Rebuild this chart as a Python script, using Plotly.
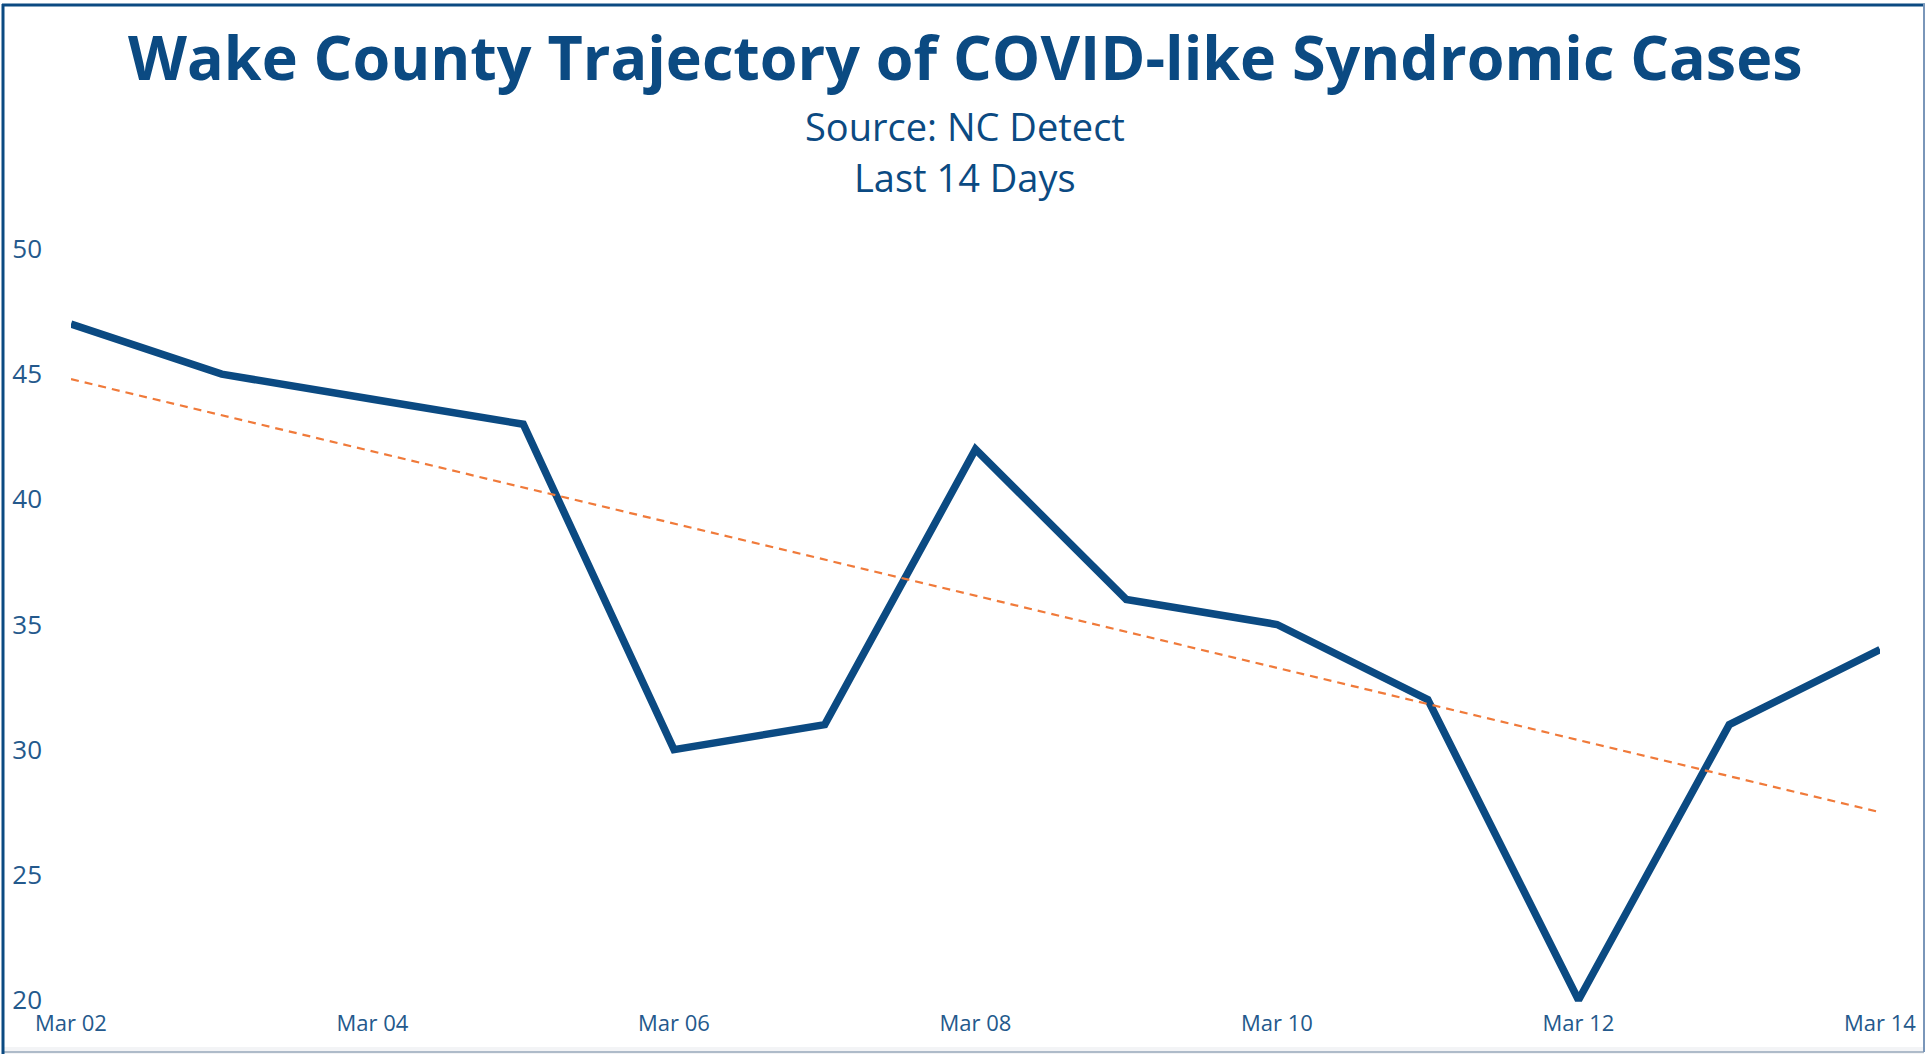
import plotly.graph_objects as go

# ---- data ----
dates = ["2020-03-02", "2020-03-03", "2020-03-04", "2020-03-05", "2020-03-06",
         "2020-03-07", "2020-03-08", "2020-03-09", "2020-03-10", "2020-03-11",
         "2020-03-12", "2020-03-13", "2020-03-14"]
cases = [47, 45, 44, 43, 30, 31, 42, 36, 35, 32, 20, 31, 34]
trend_dates = ["2020-03-02", "2020-03-14"]
trend_values = [44.8, 27.5]
y_ticks = [20, 25, 30, 35, 40, 45, 50]

title_text = "Wake County Trajectory of COVID-like Syndromic Cases"
subtitle_lines = ["Source: NC Detect", "Last 14 Days"]

# ---- layout geometry (pixels) ----
W, H = 1931, 1054
L, R = 71, 1880          # plot left / right
T, B = 249, 1008         # plot top / bottom


def px_x(px):
    return (px - L) / (R - L)


def px_y(py):
    return (B - py) / (B - T)


NAVY = "#0B4A82"
ORANGE = "#F07A3A"
TICK = "#24598C"

fig = go.Figure()
fig.add_trace(go.Scatter(
    x=dates, y=cases, mode="lines",
    line=dict(color=NAVY, width=7.5),
    hoverinfo="x+y", showlegend=False,
))
fig.add_trace(go.Scatter(
    x=trend_dates, y=trend_values, mode="lines",
    line=dict(color=ORANGE, width=2.2, dash="8px,6px"),
    hoverinfo="skip", showlegend=False,
))

annotations = [
    dict(text="<b>" + title_text + "</b>", x=px_x(965), y=px_y(56),
         xref="paper", yref="paper", xanchor="center", yanchor="middle",
         showarrow=False, font=dict(family="Open Sans", size=61, color=NAVY)),
    dict(text=subtitle_lines[0], x=px_x(965), y=px_y(126),
         xref="paper", yref="paper", xanchor="center", yanchor="middle",
         showarrow=False, font=dict(family="Open Sans", size=38, color=NAVY)),
    dict(text=subtitle_lines[1], x=px_x(965), y=px_y(177),
         xref="paper", yref="paper", xanchor="center", yanchor="middle",
         showarrow=False, font=dict(family="Open Sans", size=38, color=NAVY)),
]

shapes = [
    # bottom grey strip
    dict(type="rect", xref="paper", yref="paper",
         x0=px_x(3), x1=px_x(1924), y0=px_y(1047), y1=px_y(1054),
         fillcolor="#F3F4F6", line=dict(width=0), layer="below"),
    dict(type="line", xref="paper", yref="paper",
         x0=px_x(3), x1=px_x(1924), y0=px_y(1052), y1=px_y(1052),
         line=dict(color="#AEBBC9", width=2)),
    # top border
    dict(type="line", xref="paper", yref="paper",
         x0=px_x(2), x1=px_x(1925), y0=px_y(5), y1=px_y(5),
         line=dict(color=NAVY, width=3)),
    # left border
    dict(type="line", xref="paper", yref="paper",
         x0=px_x(3), x1=px_x(3), y0=px_y(4), y1=px_y(1054),
         line=dict(color=NAVY, width=3)),
    # right border
    dict(type="line", xref="paper", yref="paper",
         x0=px_x(1924), x1=px_x(1924), y0=px_y(4), y1=px_y(1052),
         line=dict(color="#7A96B9", width=2)),
]

fig.update_layout(
    width=W, height=H,
    margin=dict(l=L, r=W - R, t=T, b=H - B, pad=0),
    paper_bgcolor="white", plot_bgcolor="white",
    annotations=annotations, shapes=shapes,
    showlegend=False,
    font=dict(family="Open Sans", color=TICK),
)
fig.update_xaxes(
    type="date", range=[dates[0], dates[-1]],
    tick0=dates[0], dtick=2 * 86400000, tickformat="%b %d",
    showgrid=False, zeroline=False, showline=False, ticks="",
    tickfont=dict(family="Open Sans", size=22, color=TICK),
    ticklabelstandoff=0,
)
fig.update_yaxes(
    range=[19.68, 50], tickmode="array", tickvals=y_ticks,
    showgrid=False, zeroline=False, showline=False, ticks="",
    tickfont=dict(family="Open Sans", size=26, color=TICK),
    ticklabelstandoff=28,
)

fig.write_html(
    "out.html",
    config={"displayModeBar": False},
    post_script="document.body.style.margin='0';document.body.style.overflow='hidden';",
)
